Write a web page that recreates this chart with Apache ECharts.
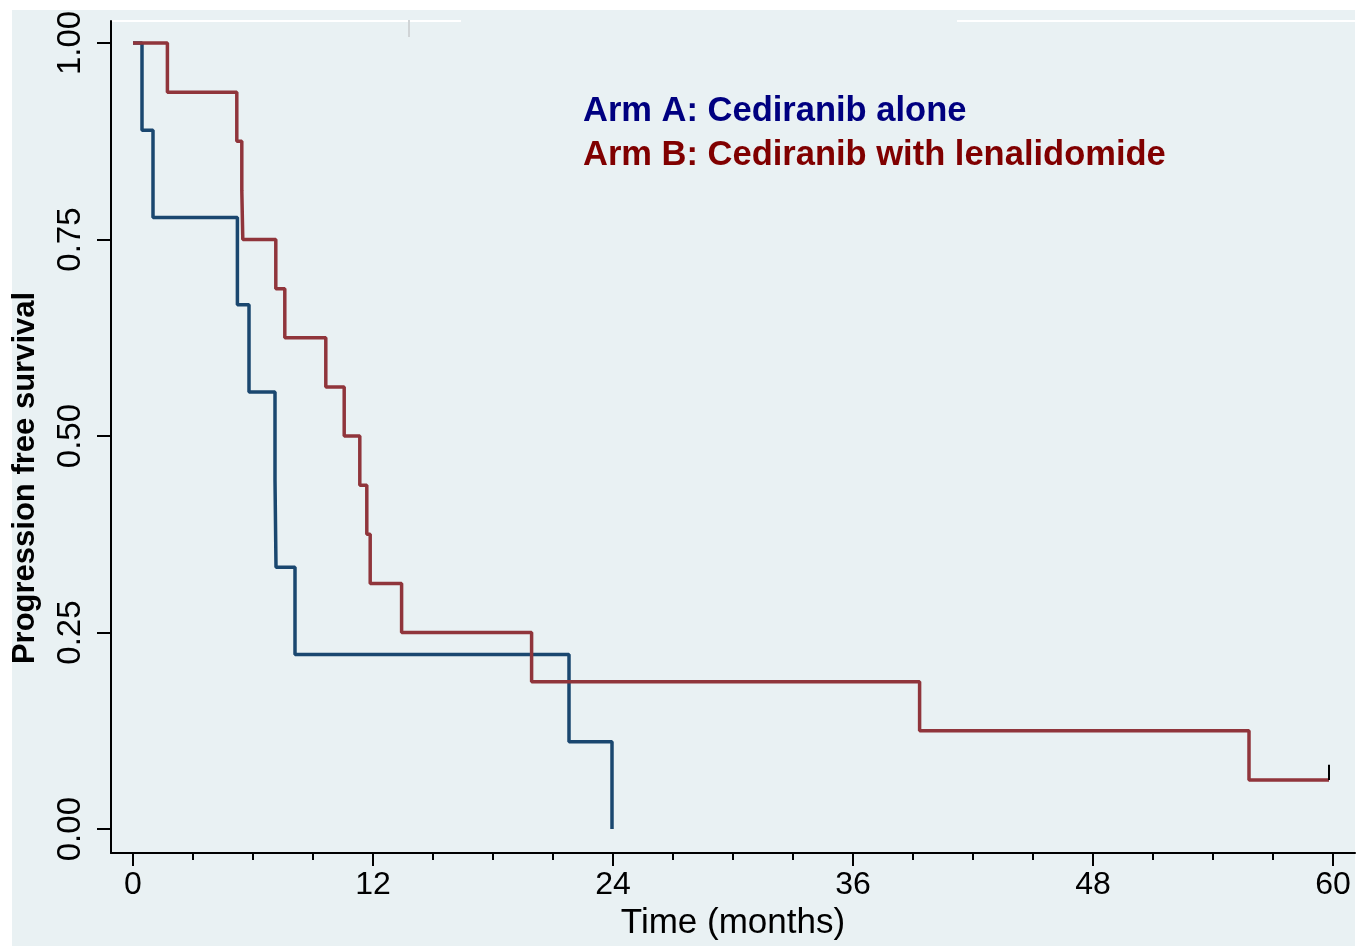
<!DOCTYPE html>
<html>
<head>
<meta charset="utf-8">
<script src="https://cdn.jsdelivr.net/npm/echarts@6/dist/echarts.min.js"></script>
<style>
html, body { margin: 0; padding: 0; background: #ffffff; }
#bg { position: absolute; left: 12px; top: 10px; width: 1343px; height: 936px; background: #e9f1f3; }
#chart { position: absolute; left: 0; top: 0; width: 1369px; height: 946px; }
</style>
</head>
<body>
<div id="bg"></div>
<div id="chart"></div>
<script>
// Kaplan-Meier steps (months, survival after the event)
const armATimes = [0, 0.45, 1.0, 5.22, 5.8, 7.1, 7.15, 8.1, 21.8, 23.95];
const armASurv = [1, 0.889, 0.778, 0.667, 0.556, 0.444, 0.333, 0.222, 0.111, 0];

const armBTimes = [0, 1.72, 5.19, 5.44, 5.49, 7.14, 7.59, 9.64, 10.56, 11.34, 11.69, 11.86, 13.43, 19.93, 39.33, 55.8, 59.8];
const armBSurv = [1, 0.9375, 0.875, 0.8125, 0.75, 0.6875, 0.625, 0.5625, 0.5, 0.4375, 0.375, 0.3125, 0.25, 0.1875, 0.125, 0.0625, 0.0625];

// censor mark at the end of arm B
const censorTimes = [59.8, 59.8];
const censorSurv = [0.0625, 0.082];

const xMajorTicks = [0, 12, 24, 36, 48, 60];
const xMinorTicks = [3, 6, 9, 15, 18, 21, 27, 30, 33, 39, 42, 45, 51, 54, 57];
const yTicks = [0, 0.25, 0.5, 0.75, 1];

const legendNames = ['Arm A: Cediranib alone', 'Arm B: Cediranib with lenalidomide'];

const FONT = 'Liberation Sans, Arial, Helvetica, sans-serif';
const zip = (xs, ys) => xs.map((x, i) => [x, ys[i]]);

const chart = echarts.init(document.getElementById('chart'));
const option = {
  backgroundColor: 'transparent',
  animation: false,
  grid: { left: 111, right: 14, top: 21, bottom: 91 },
  legend: {
    orient: 'vertical',
    left: 573,
    top: 89,
    itemWidth: 0,
    itemHeight: 33,
    itemGap: 9,
    icon: 'rect',
    selectedMode: false,
    textStyle: { fontFamily: FONT, fontSize: 34.5, fontWeight: 'bold' },
    data: [
      { name: legendNames[0], textStyle: { color: '#000080' } },
      { name: legendNames[1], textStyle: { color: '#800000' } }
    ]
  },
  xAxis: [
    {
      type: 'value',
      min: -1.1,
      max: 61.1,
      position: 'bottom',
      splitLine: { show: false },
      axisLine: { show: true, onZero: false, lineStyle: { color: '#000', width: 2 } },
      axisTick: { show: true, customValues: xMajorTicks, length: 13, lineStyle: { color: '#000', width: 2 } },
      axisLabel: { customValues: xMajorTicks, margin: 16, color: '#000', fontFamily: FONT, fontSize: 32 },
      name: 'Time (months)',
      nameLocation: 'middle',
      nameGap: 52,
      nameTextStyle: { color: '#000', fontFamily: FONT, fontSize: 35 }
    },
    {
      type: 'value',
      min: -1.1,
      max: 61.1,
      position: 'bottom',
      splitLine: { show: false },
      axisLine: { show: false, onZero: false },
      axisTick: { show: true, customValues: xMinorTicks, length: 7, lineStyle: { color: '#000', width: 2 } },
      axisLabel: { show: false }
    }
  ],
  yAxis: {
    type: 'value',
    min: -0.0305,
    max: 1.028,
    splitLine: { show: false },
    axisLine: { show: true, onZero: false, lineStyle: { color: '#000', width: 2 } },
    axisTick: { show: true, customValues: yTicks, length: 14, lineStyle: { color: '#000', width: 2 } },
    axisLabel: {
      customValues: yTicks,
      rotate: 90,
      margin: 24,
      color: '#000',
      fontFamily: FONT,
      fontSize: 33,
      formatter: v => v.toFixed(2)
    }
  },
  graphic: [
    {
      type: 'text',
      x: 25,
      y: 478,
      rotation: Math.PI / 2,
      style: {
        text: 'Progression free survival',
        fill: '#000',
        font: 'bold 31px ' + FONT,
        align: 'center',
        verticalAlign: 'middle'
      }
    },
    // white border remnants along the top of the plot
    { type: 'line', shape: { x1: 112, y1: 21, x2: 461, y2: 21 }, style: { stroke: '#ffffff', lineWidth: 2 } },
    { type: 'line', shape: { x1: 957, y1: 21, x2: 1355, y2: 21 }, style: { stroke: '#ffffff', lineWidth: 2 } },
    { type: 'line', shape: { x1: 409, y1: 20, x2: 409, y2: 37 }, style: { stroke: '#d0d4d6', lineWidth: 2 } }
  ],
  series: [
    {
      name: legendNames[0],
      type: 'line',
      step: 'end',
      symbol: 'none',
      data: zip(armATimes, armASurv),
      lineStyle: { color: '#1a476f', width: 3.5 },
      itemStyle: { color: '#1a476f' },
      z: 3
    },
    {
      name: legendNames[1],
      type: 'line',
      step: 'end',
      symbol: 'none',
      data: zip(armBTimes, armBSurv),
      lineStyle: { color: '#90353b', width: 3.5 },
      itemStyle: { color: '#90353b' },
      z: 4
    },
    {
      name: 'censored',
      type: 'line',
      xAxisIndex: 1,
      symbol: 'none',
      data: zip(censorTimes, censorSurv),
      lineStyle: { color: '#000', width: 2 },
      z: 5
    }
  ]
};
chart.setOption(option);
</script>
</body>
</html>
